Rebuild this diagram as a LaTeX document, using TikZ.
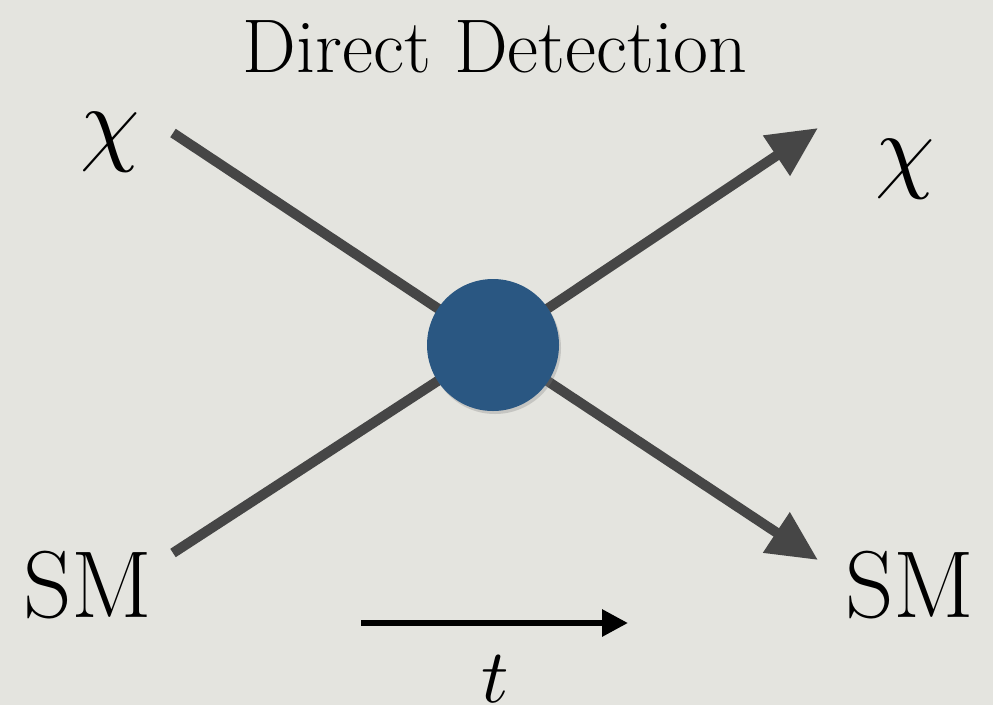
\documentclass[tikz,border=0pt]{standalone}
\usetikzlibrary{arrows.meta,shadows}
\definecolor{bgc}{HTML}{E4E4DF}
\definecolor{linec}{HTML}{464646}
\definecolor{blobc}{HTML}{2A5782}
\tikzset{
  leg/.style={draw=linec, line width=10pt},
  legout/.style={leg, -{Triangle[length=50pt,width=46pt]}},
  lbl/.style={inner sep=0pt, anchor=base},
}
\begin{document}
\begin{tikzpicture}[x=1pt,y=-1pt]
\fill[bgc] (0,0) rectangle (993,705);
\useasboundingbox (0,0) rectangle (993,705);
\coordinate (vc) at (493,345);
\coordinate (a) at (173,133);
\coordinate (b) at (173,553);
\coordinate (c) at (818,128);
\coordinate (d) at (818,560);
\draw[leg] (a) -- (vc);
\draw[leg] (b) -- (vc);
\draw[legout] (vc) -- (c);
\draw[legout] (vc) -- (d);
\node[circle, fill=blobc, minimum size=132pt, inner sep=0pt,
      drop shadow={opacity=0.3, shadow xshift=2pt, shadow yshift=-3pt}] (v) at (vc) {};
\node[lbl] (title) at (495,72) {\fontsize{76}{80}\selectfont Direct Detection};
\node[lbl] (chiL) at (110,153) {\scalebox{9.5}{$\chi$}};
\node[lbl] (chiR) at (905,180) {\scalebox{9.5}{$\chi$}};
\node[lbl] (smL) at (88,617) {\fontsize{95}{100}\selectfont SM};
\node[lbl] (smR) at (910,617) {\fontsize{95}{100}\selectfont SM};
\coordinate (t0) at (361,623);
\coordinate (t1) at (628,623);
\draw[line width=6pt, -{Triangle[length=26pt,width=26pt]}] (t0) -- (t1);
\node[lbl] (tl) at (495,702) {\scalebox{7.6}{$t$}};
\end{tikzpicture}
\end{document}
